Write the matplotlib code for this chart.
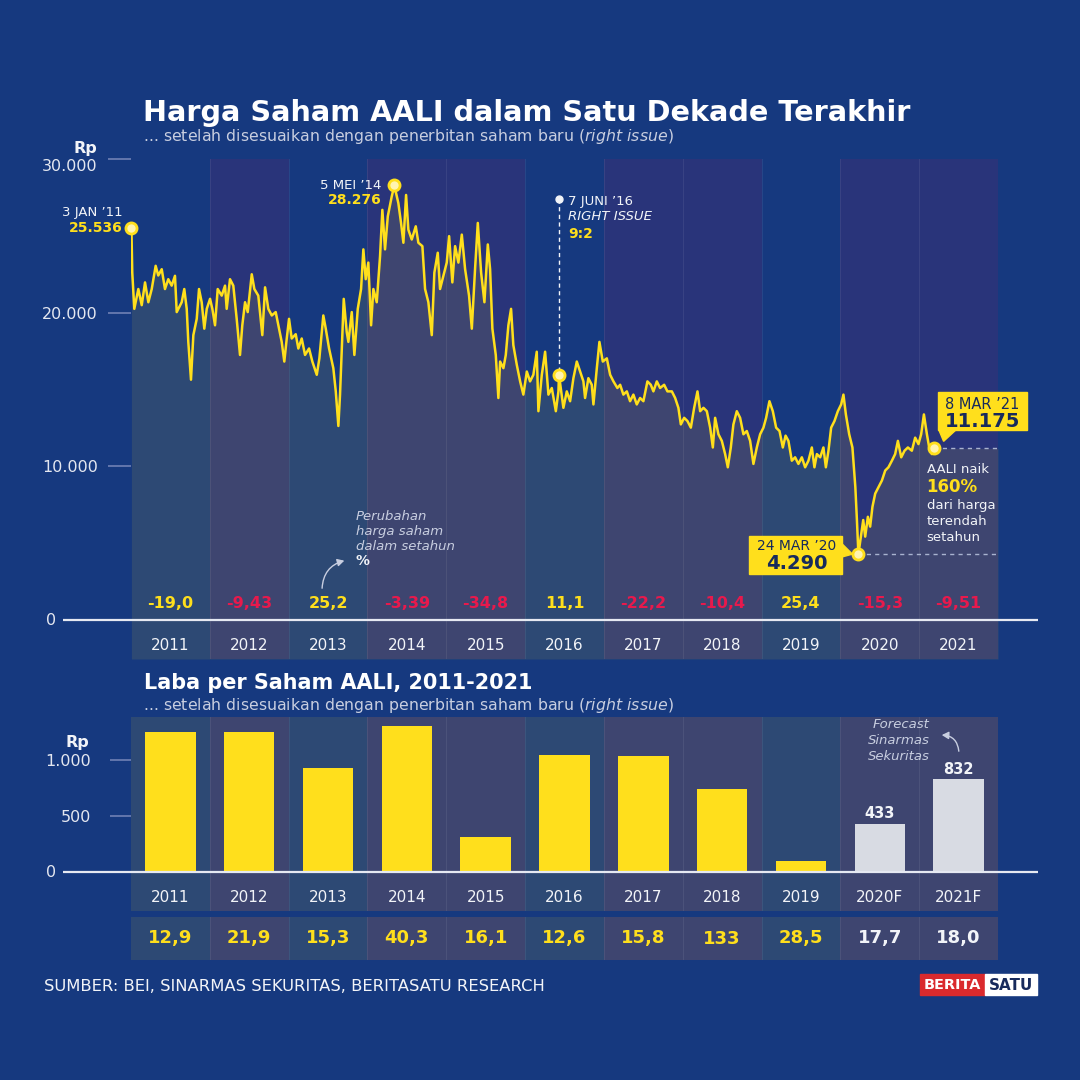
import matplotlib
matplotlib.use("Agg")
import matplotlib.pyplot as plt
import matplotlib.ticker as mticker
from matplotlib.patches import Rectangle, Polygon, FancyArrowPatch

plt.rcParams['font.family'] = ['DejaVu Sans']
plt.rcParams['mathtext.fontset'] = 'dejavusans'

# ---------------- colours ----------------
BG = '#16397f'
BAND_ALT = '#29347a'
YELLOW = '#ffdf1c'
RED = '#e8194c'
WHITE = '#f2f4f8'
SOFT = '#c8cee0'
TICK = '#6f80b4'
NAVY = '#172a5c'
FORECAST = '#d8dbe3'

# ---------------- data ----------------
years = list(range(2011, 2022))
year_labels = ['2011', '2012', '2013', '2014', '2015', '2016', '2017', '2018', '2019', '2020', '2021']
pct_change = [-19.0, -9.43, 25.2, -3.39, -34.8, 11.1, -22.2, -10.4, 25.4, -15.3, -9.51]
pct_labels = ['-19,0', '-9,43', '25,2', '-3,39', '-34,8', '11,1', '-22,2', '-10,4', '25,4', '-15,3', '-9,51']
pct_highlight = [True, False, True, False, False, True, False, False, True, False, False]

eps_labels = ['2011', '2012', '2013', '2014', '2015', '2016', '2017', '2018', '2019', '2020F', '2021F']
eps_values = [1253, 1250, 931, 1301, 315, 1042, 1040, 744, 101, 433, 832]
eps_forecast = [False, False, False, False, False, False, False, False, False, True, True]
per_labels = ['12,9', '21,9', '15,3', '40,3', '16,1', '12,6', '15,8', '133', '28,5', '17,7', '18,0']

price_time = [
    2011.005, 2011.016, 2011.042, 2011.093, 2011.136, 2011.178, 2011.220, 2011.263, 2011.313, 2011.346,
    2011.390, 2011.431, 2011.473, 2011.516, 2011.558, 2011.580, 2011.643, 2011.676, 2011.707, 2011.727,
    2011.761, 2011.791, 2011.834, 2011.863, 2011.897, 2011.930, 2011.961, 2012.003, 2012.032, 2012.066,
    2012.100, 2012.151, 2012.193, 2012.214, 2012.256, 2012.298, 2012.341, 2012.383, 2012.412, 2012.447,
    2012.481, 2012.532, 2012.565, 2012.615, 2012.666, 2012.701, 2012.742, 2012.786, 2012.836, 2012.878,
    2012.912, 2012.945, 2012.976, 2013.005, 2013.039, 2013.090, 2013.123, 2013.166, 2013.208, 2013.259,
    2013.301, 2013.357, 2013.390, 2013.440, 2013.471, 2013.513, 2013.567, 2013.598, 2013.631, 2013.652,
    2013.674, 2013.699, 2013.737, 2013.758, 2013.801, 2013.834, 2013.877, 2013.919, 2013.948, 2013.978,
    2014.011, 2014.046, 2014.075, 2014.118, 2014.160, 2014.189, 2014.223, 2014.258, 2014.308, 2014.341,
    2014.392, 2014.426, 2014.456, 2014.490, 2014.519, 2014.562, 2014.613, 2014.646, 2014.697, 2014.731,
    2014.773, 2014.816, 2014.849, 2014.892, 2014.921, 2014.963, 2015.006, 2015.036, 2015.077, 2015.112,
    2015.154, 2015.197, 2015.239, 2015.289, 2015.324, 2015.365, 2015.400, 2015.442, 2015.484, 2015.527,
    2015.556, 2015.585, 2015.628, 2015.661, 2015.683, 2015.725, 2015.755, 2015.788, 2015.822, 2015.851,
    2015.895, 2015.937, 2015.978, 2016.022, 2016.063, 2016.105, 2016.148, 2016.169, 2016.212, 2016.254,
    2016.296, 2016.339, 2016.390, 2016.423, 2016.430, 2016.486, 2016.529, 2016.571, 2016.613, 2016.656,
    2016.698, 2016.740, 2016.761, 2016.803, 2016.846, 2016.867, 2016.910, 2016.943, 2016.986, 2017.037,
    2017.079, 2017.121, 2017.171, 2017.206, 2017.247, 2017.291, 2017.332, 2017.374, 2017.417, 2017.459,
    2017.501, 2017.552, 2017.595, 2017.628, 2017.671, 2017.713, 2017.764, 2017.806, 2017.862, 2017.904,
    2017.945, 2017.976, 2018.018, 2018.060, 2018.103, 2018.145, 2018.187, 2018.221, 2018.263, 2018.306,
    2018.348, 2018.382, 2018.411, 2018.453, 2018.496, 2018.538, 2018.572, 2018.610, 2018.643, 2018.686,
    2018.728, 2018.770, 2018.813, 2018.855, 2018.897, 2018.940, 2018.982, 2019.024, 2019.058, 2019.100,
    2019.143, 2019.185, 2019.228, 2019.270, 2019.305, 2019.341, 2019.384, 2019.426, 2019.468, 2019.511,
    2019.553, 2019.595, 2019.638, 2019.671, 2019.702, 2019.744, 2019.785, 2019.816, 2019.849, 2019.883,
    2019.925, 2019.968, 2020.010, 2020.039, 2020.070, 2020.112, 2020.153, 2020.190, 2020.210, 2020.229,
    2020.290, 2020.315, 2020.349, 2020.378, 2020.407, 2020.442, 2020.484, 2020.527, 2020.569, 2020.610,
    2020.654, 2020.695, 2020.730, 2020.772, 2020.814, 2020.857, 2020.907, 2020.949, 2020.991, 2021.025,
    2021.060, 2021.098, 2021.127, 2021.161, 2021.183,
]
price_value = [
    25536, 22600, 20250, 21540, 20490, 21970, 20680, 21540, 23050, 22420,
    22830, 21540, 22180, 21760, 22400, 20040, 20680, 21540, 20250, 18100,
    15640, 18540, 19600, 21540, 20680, 18960, 20250, 20900, 20250, 19180,
    21540, 21110, 21760, 20250, 22180, 21760, 19600, 17250, 19180, 20680,
    20040, 22500, 21540, 21110, 18540, 21650, 20250, 19820, 20040, 18960,
    18100, 16820, 18320, 19600, 18320, 18600, 17670, 18320, 17250, 17670,
    16820, 15960, 17030, 19820, 18960, 17670, 16390, 14880, 12630, 14670,
    17670, 20900, 18750, 18100, 20040, 17250, 20250, 21540, 24120, 22180,
    23260, 19180, 21540, 20680, 23690, 26690, 24120, 26270, 27560, 28276,
    27130, 25840, 24550, 27660, 25400, 24760, 25620, 24550, 24330, 21540,
    20680, 18540, 22610, 23900, 21540, 22400, 23260, 24980, 21970, 24330,
    23260, 25080, 22830, 21110, 18960, 22830, 25840, 22610, 20680, 24440,
    22830, 18960, 17250, 14450, 16820, 16390, 17250, 19180, 20250, 17890,
    16600, 15530, 14670, 16170, 15530, 15960, 17460, 13590, 15960, 17460,
    14670, 15100, 13590, 14880, 15960, 13810, 14880, 14240, 15740, 16820,
    16170, 15530, 14450, 15740, 15310, 14030, 16390, 18100, 16820, 17030,
    15960, 15530, 15100, 15310, 14670, 14880, 14240, 14670, 14030, 14450,
    14240, 15530, 15310, 14880, 15530, 15100, 15310, 14880, 14880, 14450,
    13810, 12730, 13160, 12950, 12520, 13810, 14880, 13590, 13810, 13590,
    12520, 11230, 13160, 12090, 11660, 10800, 9940, 11230, 12730, 13590,
    13160, 12090, 12300, 11660, 10160, 11230, 12090, 12520, 13160, 14240,
    13590, 12520, 12300, 11230, 12000, 11660, 10370, 10590, 10160, 10590,
    9940, 10370, 11230, 9940, 10800, 10590, 11230, 9940, 11020, 12520,
    12950, 13590, 14030, 14670, 13380, 12090, 11230, 8650, 6510, 4290,
    6510, 5430, 6720, 6080, 7370, 8230, 8650, 9080, 9730, 9940,
    10370, 10800, 11660, 10590, 11020, 11230, 11020, 11870, 11450, 12090,
    13380, 12090, 11230, 10800, 11175,
]
right_issue_time = 2016.430
right_issue_ratio = '9:2'

# ---------------- figure ----------------
W = H = 1080
fig = plt.figure(figsize=(W / 100, H / 100), dpi=100, facecolor=BG)


def rect(x0, y0, x1, y1):
    return [x0 / W, 1 - y1 / H, (x1 - x0) / W, (y1 - y0) / H]


ax = fig.add_axes(rect(131, 159, 998, 659))
axb = fig.add_axes(rect(131, 717, 998, 911))
axp = fig.add_axes(rect(131, 917, 998, 960))
ov = fig.add_axes([0, 0, 1, 1], zorder=10)
ov.set_xlim(0, W)
ov.set_ylim(H, 0)
ov.axis('off')
ov.patch.set_visible(False)


def bands(a, tint=False):
    a.set_facecolor(BG)
    for i, y in enumerate(years):
        a.axvspan(y, y + 1, color=BG if pct_highlight[i] else BAND_ALT, lw=0, zorder=0)
        if tint:
            a.axvspan(y, y + 1, color=YELLOW, alpha=0.1, lw=0, zorder=0.2)
    for y in years[1:]:
        a.axvline(y, color='white', alpha=0.07, lw=0.8, zorder=0.5)
    a.set_xlim(years[0], years[-1] + 1)
    for s in a.spines.values():
        s.set_visible(False)
    a.set_xticks([])


thousands = mticker.FuncFormatter(lambda v, p: f"{v:,.0f}".replace(',', '.'))

# ---- upper chart: share price ----
bands(ax)
ax.set_ylim(-2533, 30000)
ymin = ax.get_ylim()[0]
ax.fill_between(price_time + [years[-1] + 1], price_value + [price_value[-1]], ymin,
                color=YELLOW, alpha=0.1, lw=0, zorder=1)
ax.plot(price_time, price_value, color=YELLOW, lw=1.8, zorder=3)
ax.set_yticks([10000, 20000, 30000])
ax.yaxis.set_major_formatter(thousands)
ax.tick_params(axis='y', length=16.5, width=1.2, pad=7.5, color=TICK,
               labelcolor='#e4e7f0', labelsize=11.5)
ax.yaxis.get_major_ticks()[2].label1.set_va('top')

# ---- lower chart: EPS ----
bands(axb, tint=True)
axb.set_ylim(-348, 1384)
xc = [y + 0.5 for y in years]
axb.bar(xc, eps_values, width=0.64,
        color=[FORECAST if f else YELLOW for f in eps_forecast], zorder=3)
axb.set_yticks([500, 1000])
axb.yaxis.set_major_formatter(thousands)
axb.tick_params(axis='y', length=15, width=1.2, pad=13.5, color=TICK,
                labelcolor='#e4e7f0', labelsize=11.5)
for x, v, f in zip(xc, eps_values, eps_forecast):
    if f:
        axb.annotate(f"{v}", xy=(x, v), xytext=(0, 7), textcoords='offset points',
                     ha='center', va='center', color=WHITE, fontsize=10.5,
                     fontweight='bold', zorder=5)

# ---- PER row ----
bands(axp, tint=True)
axp.set_ylim(0, 1)
axp.set_yticks([])
for x, lab, f in zip(xc, per_labels, eps_forecast):
    axp.text(x, 0.5, lab, ha='center', va='center', color=WHITE if f else YELLOW,
             fontsize=13, fontweight='bold')


def to_px(a, x, y):
    d = a.transData.transform((x, y))
    return d[0], H - d[1]


# zero lines and labels
for a in (ax, axb):
    _, y0 = to_px(a, years[0], 0)
    ov.plot([63, 1038], [y0, y0], color='#e6e9f2', lw=1.6, solid_capstyle='butt')
    ov.text(51, y0, '0', ha='center', va='center', color='#e4e7f0', fontsize=11.5)
ov.text(97, 149, 'Rp', ha='right', va='center', color=WHITE, fontsize=11.5, fontweight='bold')
ov.text(89, 742, 'Rp', ha='right', va='center', color=WHITE, fontsize=11.5, fontweight='bold')

# year labels & % change
for x, lab, pl, hi in zip(xc, year_labels, pct_labels, pct_highlight):
    px, _ = to_px(ax, x, 0)
    ov.text(px, 645, lab, ha='center', va='center', color=WHITE, fontsize=11)
    ov.text(px, 604, pl, ha='center', va='center', color=YELLOW if hi else RED,
            fontsize=11.5, fontweight='bold')
for x, lab in zip(xc, eps_labels):
    px, _ = to_px(axb, x, 0)
    ov.text(px, 897, lab, ha='center', va='center', color=WHITE, fontsize=11)

# titles
t1 = ov.text(143, 121, 'Harga Saham AALI dalam Satu Dekade Terakhir', ha='left',
             va='baseline', color='white', fontsize=22, fontweight='bold')
sub = '... setelah disesuaikan dengan penerbitan saham baru ($\\mathit{right\\ issue}$)'
t2 = ov.text(143, 141, sub, ha='left', va='baseline', color=SOFT, fontsize=11)
t3 = ov.text(144, 689, 'Laba per Saham AALI, 2011-2021', ha='left', va='baseline',
             color='white', fontsize=18, fontweight='bold')
t4 = ov.text(143, 710, sub, ha='left', va='baseline', color=SOFT, fontsize=11)
t5 = ov.text(44, 991, 'SUMBER: BEI, SINARMAS SEKURITAS, BERITASATU RESEARCH', ha='left',
             va='baseline', color=WHITE, fontsize=11.5)

# ---- annotations on price chart ----
vals = {
    'start': (price_time[0], price_value[0]),
    'peak': (price_time[price_value.index(max(price_value))], max(price_value)),
    'low': (price_time[price_value.index(min(price_value))], min(price_value)),
    'last': (price_time[-1], price_value[-1]),
    'ri': (right_issue_time, price_value[price_time.index(right_issue_time)]),
}


def fmt(v):
    return f"{v:,}".replace(',', '.')


def dot(px, py):
    ov.plot(px, py, 'o', ms=8, mfc='#fff4b0', mec=YELLOW, mew=2, zorder=6)


sx, sy = to_px(ax, *vals['start'])
dot(sx, sy)
ov.text(sx - 9, sy - 15, '3 JAN \u201911', ha='right', va='center', color=WHITE, fontsize=9.5)
ov.text(sx - 9, sy, fmt(vals['start'][1]), ha='right', va='center', color=YELLOW,
        fontsize=10, fontweight='bold')

kx, ky = to_px(ax, *vals['peak'])
dot(kx, ky)
ov.text(kx - 13, ky, '5 MEI \u201914', ha='right', va='center', color=WHITE, fontsize=9.5)
ov.text(kx - 13, ky + 15, fmt(vals['peak'][1]), ha='right', va='center', color=YELLOW,
        fontsize=10, fontweight='bold')

rx, ry = to_px(ax, *vals['ri'])
ov.plot([rx, rx], [199, ry], color=WHITE, lw=1, ls=(0, (3, 2.5)), zorder=5)
ov.plot(rx, 199, 'o', ms=5, color=WHITE, zorder=6)
dot(rx, ry)
ov.text(rx + 9, 201, '7 JUNI \u201916', ha='left', va='center', color=WHITE, fontsize=9.5)
ov.text(rx + 9, 217, 'RIGHT ISSUE', ha='left', va='center', color=WHITE, fontsize=9.5,
        style='italic')
ov.text(rx + 9, 234, right_issue_ratio, ha='left', va='center', color=YELLOW,
        fontsize=10, fontweight='bold')

# low point callout
lx, ly = to_px(ax, *vals['low'])
ov.plot([lx, 998], [ly, ly], color='#a9b3d0', lw=1, ls=(0, (3, 3)), zorder=4)
ov.add_patch(Rectangle((lx - 109, ly - 18), 93, 38, color=YELLOW, zorder=6))
ov.add_patch(Polygon([(lx - 17, ly - 11), (lx - 17, ly + 3), (lx - 6, ly)], color=YELLOW, zorder=6))
dot(lx, ly)
ov.text(lx - 62, ly - 8, '24 MAR \u201920', ha='center', va='center', color=NAVY,
        fontsize=10, zorder=7)
ov.text(lx - 62, ly + 9, fmt(vals['low'][1]), ha='center', va='center', color=NAVY,
        fontsize=14, fontweight='bold', zorder=7)

# last point callout
hx, hy = to_px(ax, *vals['last'])
ov.plot([hx, 998], [hy, hy], color='#a9b3d0', lw=1, ls=(0, (3, 3)), zorder=4)
ov.add_patch(Rectangle((hx + 4, hy - 56), 89, 38, color=YELLOW, zorder=6))
ov.add_patch(Polygon([(hx + 5, hy - 19), (hx + 10, hy - 7), (hx + 23, hy - 19)], color=YELLOW, zorder=6))
dot(hx, hy)
ov.text(hx + 49, hy - 44, '8 MAR \u201921', ha='center', va='center', color=NAVY,
        fontsize=10.5, zorder=7)
ov.text(hx + 49, hy - 27, fmt(vals['last'][1]), ha='center', va='center', color=NAVY,
        fontsize=14, fontweight='bold', zorder=7)

gain = round((vals['last'][1] / vals['low'][1] - 1) * 100)
ov.text(hx - 7, hy + 21, 'AALI naik', ha='left', va='center', color=WHITE, fontsize=9.5)
ov.text(hx - 7, hy + 39, f'{gain}%', ha='left', va='center', color=YELLOW, fontsize=12,
        fontweight='bold')
for i, s in enumerate(['dari harga', 'terendah', 'setahun']):
    ov.text(hx - 7, hy + 57 + 16 * i, s, ha='left', va='center', color=WHITE, fontsize=9.5)

# % change note
for i, s in enumerate(['Perubahan', 'harga saham', 'dalam setahun']):
    ov.text(356, 517 + 15 * i, s, ha='left', va='center', color=SOFT, fontsize=9.5,
            style='italic')
ov.text(356, 561, '%', ha='left', va='center', color=WHITE, fontsize=10, fontweight='bold')
ov.add_patch(FancyArrowPatch((322, 591), (347, 560), connectionstyle='arc3,rad=-0.4',
                             arrowstyle='-|>,head_length=4,head_width=2.2', color=SOFT,
                             lw=1, zorder=6))

# forecast note
for i, s in enumerate(['Forecast', 'Sinarmas', 'Sekuritas']):
    ov.text(930, 725 + 15.5 * i, s, ha='right', va='center', color=SOFT, fontsize=9.5,
            style='italic')
ov.add_patch(FancyArrowPatch((959, 754), (939, 735), connectionstyle='arc3,rad=0.5',
                             arrowstyle='-|>,head_length=4,head_width=2.2', color=SOFT,
                             lw=1, zorder=6))

# logo
ov.add_patch(Rectangle((920, 974), 65, 21, color='#da2a2d', zorder=6))
ov.add_patch(Rectangle((985, 974), 52, 21, color='white', zorder=6))
lg1 = ov.text(952.5, 985, 'BERITA', ha='center', va='center', color='white', fontsize=11,
              fontweight='bold', zorder=7)
lg2 = ov.text(1011, 985, 'SATU', ha='center', va='center', color=NAVY, fontsize=11,
              fontweight='bold', zorder=7)

# fit the headline widths to the layout
fig.canvas.draw()
r = fig.canvas.get_renderer()
for t, target in [(t1, 765), (t2, 528), (t3, 389), (t4, 528), (t5, 504), (lg1, 57), (lg2, 44)]:
    w = t.get_window_extent(r).width
    t.set_fontsize(t.get_fontsize() * target / w)

fig.savefig('out.png', dpi=100, facecolor=BG)
